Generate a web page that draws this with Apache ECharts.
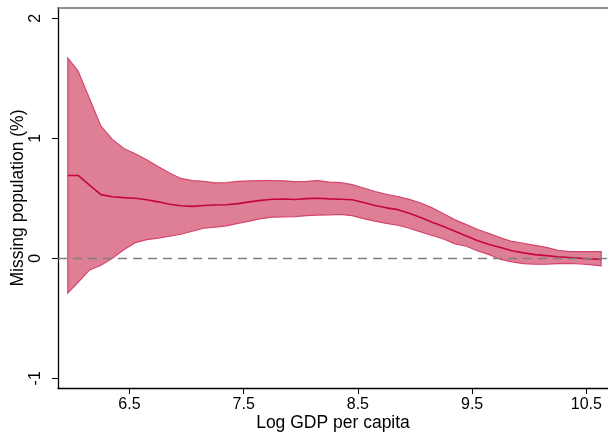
<!DOCTYPE html>
<html>
<head>
<meta charset="utf-8">
<script src="https://cdn.jsdelivr.net/npm/echarts@6/dist/echarts.min.js"></script>
<style>
  html, body { margin: 0; padding: 0; background: #fff; }
  #chart { width: 608px; height: 434px; }
</style>
</head>
<body>
<div id="chart"></div>
<script>
// log GDP per capita (x)
const gdp = [5.96, 6.05, 6.15, 6.25, 6.35, 6.45, 6.55, 6.65, 6.75, 6.85, 6.95,
  7.05, 7.15, 7.25, 7.35, 7.45, 7.55, 7.65, 7.75, 7.85, 7.95,
  8.05, 8.15, 8.25, 8.35, 8.45, 8.55, 8.65, 8.75, 8.85, 8.95,
  9.05, 9.15, 9.25, 9.35, 9.45, 9.55, 9.65, 9.75, 9.85, 9.95,
  10.05, 10.15, 10.25, 10.35, 10.45, 10.55, 10.63];

// estimate
const missing = [0.69, 0.69, 0.61, 0.53, 0.512, 0.505, 0.50, 0.488, 0.47, 0.45, 0.438,
  0.432, 0.44, 0.444, 0.446, 0.455, 0.47, 0.482, 0.492, 0.494, 0.49,
  0.497, 0.50, 0.495, 0.492, 0.487, 0.465, 0.44, 0.42, 0.405, 0.375,
  0.34, 0.30, 0.265, 0.225, 0.185, 0.145, 0.115, 0.09, 0.062, 0.045,
  0.03, 0.022, 0.012, 0.006, 0.0, -0.005, -0.008];

// confidence band
const upper = [1.667, 1.56, 1.33, 1.10, 0.99, 0.915, 0.87, 0.82, 0.765, 0.71, 0.665,
  0.647, 0.64, 0.628, 0.63, 0.64, 0.645, 0.647, 0.648, 0.645, 0.638,
  0.64, 0.647, 0.635, 0.63, 0.613, 0.585, 0.555, 0.533, 0.513, 0.49,
  0.46, 0.42, 0.37, 0.32, 0.28, 0.24, 0.205, 0.17, 0.14, 0.125,
  0.108, 0.09, 0.065, 0.055, 0.055, 0.055, 0.055];
const lower = [-0.29, -0.2, -0.097, -0.058, 0.0, 0.07, 0.13, 0.155, 0.168, 0.185, 0.2,
  0.225, 0.25, 0.26, 0.27, 0.29, 0.31, 0.33, 0.342, 0.345, 0.347,
  0.355, 0.36, 0.362, 0.365, 0.355, 0.33, 0.31, 0.29, 0.275, 0.25,
  0.22, 0.19, 0.16, 0.12, 0.1, 0.06, 0.03, -0.01, -0.03, -0.045,
  -0.05, -0.05, -0.045, -0.042, -0.048, -0.055, -0.064];

const xTicks = [6.5, 7.5, 8.5, 9.5, 10.5];
const yTicks = [-1, 0, 1, 2];

const chart = echarts.init(document.getElementById('chart'));
const font = 'Liberation Sans, Arial, Helvetica, sans-serif';

const option = {
  animation: false,
  grid: { left: 58, right: 0, top: 8, bottom: 46, containLabel: false, outerBoundsMode: 'none' },
  xAxis: [{
    type: 'value',
    min: 5.874,
    max: 10.69,
    name: 'Log GDP per capita',
    nameLocation: 'middle',
    nameGap: 26,
    nameMoveOverlap: false,
    nameTextStyle: { fontFamily: font, fontSize: 17.5, color: '#000' },
    axisLine: { show: true, onZero: false, lineStyle: { color: '#000', width: 1.3 } },
    axisTick: { show: true, length: 6, customValues: xTicks, lineStyle: { color: '#000' } },
    axisLabel: { customValues: xTicks, margin: 9, fontFamily: font, fontSize: 16, color: '#000' },
    splitLine: { show: false }
  }, {
    // top border
    type: 'value',
    position: 'top',
    min: 5.874,
    max: 10.69,
    axisLine: { show: true, onZero: false, lineStyle: { color: '#6e6e6e', width: 1.6 } },
    axisTick: { show: false },
    axisLabel: { show: false },
    splitLine: { show: false }
  }],
  yAxis: {
    type: 'value',
    min: -1.081,
    max: 2.085,
    name: 'Missing population (%)',
    nameLocation: 'middle',
    nameGap: 31,
    nameMoveOverlap: false,
    nameTextStyle: { fontFamily: font, fontSize: 17.5, color: '#000' },
    axisLine: { show: true, onZero: false, lineStyle: { color: '#000', width: 1.3 } },
    axisTick: { show: true, length: 6, customValues: yTicks, lineStyle: { color: '#000' } },
    axisLabel: { customValues: yTicks, rotate: 90, margin: 14, fontFamily: font, fontSize: 16, color: '#000' },
    splitLine: { show: false }
  },
  series: [
    {
      // shaded band, drawn as one polygon through the axes' scales
      type: 'custom',
      silent: true,
      data: [0],
      renderItem: function (params, api) {
        const pts = [];
        for (let i = 0; i < gdp.length; i++) pts.push(api.coord([gdp[i], upper[i]]));
        for (let i = gdp.length - 1; i >= 0; i--) pts.push(api.coord([gdp[i], lower[i]]));
        return {
          type: 'polygon',
          shape: { points: pts },
          style: { fill: '#df7f96', stroke: '#d4466c', lineWidth: 1.2 }
        };
      },
      z: 1
    },
    {
      type: 'line',
      data: gdp.map((x, i) => [x, missing[i]]),
      symbol: 'none',
      lineStyle: { color: '#c4063c', width: 1.6 },
      markLine: {
        silent: true,
        symbol: 'none',
        label: { show: false },
        lineStyle: { color: '#7f7f7f', type: [9, 6], width: 1.3 },
        data: [{ yAxis: 0 }]
      },
      z: 3
    }
  ]
};

chart.setOption(option);
</script>
</body>
</html>
